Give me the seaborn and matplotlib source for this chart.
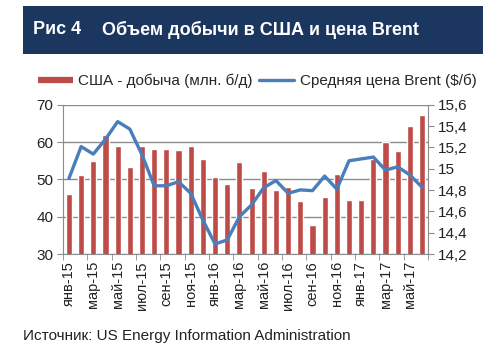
import numpy as np
import pandas as pd
import matplotlib
matplotlib.use("Agg")
import matplotlib.pyplot as plt
from matplotlib.lines import Line2D
from matplotlib.patches import Rectangle
import seaborn as sns

# Data (Jan 2015 - Jun 2017)
months = ['янв', 'фев', 'мар', 'апр', 'май', 'июн', 'июл', 'авг', 'сен', 'окт', 'ноя', 'дек']
periods = [f"{m}-{y}" for y in ['15', '16', '17'] for m in months][:30]

us_production = [14.76, 14.94, 15.07, 15.32, 15.21, 15.02, 15.21, 15.19, 15.19, 15.18,
                 15.21, 15.09, 14.92, 14.86, 15.06, 14.82, 14.98, 14.80, 14.83, 14.70,
                 14.47, 14.74, 14.95, 14.71, 14.71, 15.09, 15.25, 15.17, 15.40, 15.50]

brent_price = [50.3, 58.8, 56.8, 60.8, 65.5, 63.5, 56.6, 48.3, 48.3, 49.4,
               46.3, 39.1, 32.7, 33.8, 40.0, 43.2, 47.8, 49.7, 46.3, 47.2,
               47.0, 50.9, 47.4, 55.0, 55.5, 56.0, 52.5, 53.4, 51.2, 47.9]

left_ticks = [30, 40, 50, 60, 70]
right_ticks = [14.2, 14.4, 14.6, 14.8, 15.0, 15.2, 15.4, 15.6]

df = pd.DataFrame({'period': periods, 'prod': us_production, 'brent': brent_price,
                   'x': np.arange(len(periods))})

bar_color = '#BE4B48'
line_color = '#4A7EBB'
grid_color = '#8C8C8C'
text_color = '#222222'

sns.set_style('white')
plt.rcParams['font.family'] = ['Liberation Sans', 'DejaVu Sans']

fig = plt.figure(figsize=(4.99, 3.64), dpi=100)
rect = [0.126, 0.302, 0.732, 0.410]
n = len(periods)

# background axes only for the gridlines (left scale)
ax_grid = fig.add_axes(rect, zorder=0)
ax_grid.set_ylim(30, 70)
ax_grid.set_xlim(-0.5, n - 0.5)
ax_grid.set_yticks(left_ticks)
ax_grid.grid(axis='y', color=grid_color, linewidth=1.0)
ax_grid.tick_params(left=False, labelleft=False, bottom=False, labelbottom=False)
for s in ax_grid.spines.values():
    s.set_visible(False)

# bars on the right-hand scale
ax = fig.add_axes(rect, zorder=1)
ax.patch.set_visible(False)
sns.barplot(data=df, x='period', y='prod', color=bar_color, width=0.5,
            saturation=1, ax=ax)
ax.set_ylim(14.2, 15.6)
ax.set_yticks(right_ticks)
ax.set_yticklabels([f"{v:g}".replace('.', ',') for v in right_ticks])
ax.set_xlim(-0.5, n - 0.5)

# line on the left-hand scale
ax2 = ax.twinx()
ax2.patch.set_visible(False)
sns.lineplot(data=df, x='x', y='brent', color=line_color, linewidth=2.4, ax=ax2)
ax2.set_ylim(30, 70)
ax2.set_yticks(left_ticks)
ax2.set_xlim(-0.5, n - 0.5)

for a in (ax, ax2):
    a.set_xlabel('')
    a.set_ylabel('')
    for s in a.spines.values():
        s.set_visible(False)

ax.spines['bottom'].set_visible(True)
ax.spines['bottom'].set_color(grid_color)
ax.spines['right'].set_visible(True)
ax.spines['right'].set_color(grid_color)
ax2.spines['left'].set_visible(True)
ax2.spines['left'].set_color(grid_color)

ax.tick_params(axis='y', left=False, labelleft=False, right=True, labelright=True,
               length=4, color=grid_color, labelsize=11, labelcolor=text_color, pad=3)
ax2.tick_params(axis='y', right=False, labelright=False, left=True, labelleft=True,
                length=4, color=grid_color, labelsize=11, labelcolor=text_color, pad=3)

# x labels every two months, tick marks between categories
ax.set_xticks(np.arange(0, n, 2))
ax.set_xticklabels(periods[::2], rotation=90)
ax.set_xticks(np.arange(-0.5, n, 2), minor=True)
ax.tick_params(axis='x', which='major', length=0, labelsize=10.5, labelcolor=text_color, pad=5)
ax.tick_params(axis='x', which='minor', bottom=True, length=4, color=grid_color)
ax2.tick_params(axis='x', bottom=False, labelbottom=False)

# header
fig.patches.append(Rectangle((23 / 499, 1 - 54 / 364), 460 / 499, 48 / 364,
                             transform=fig.transFigure, facecolor='#1B365F',
                             edgecolor='none', zorder=0))
fig.text(33 / 499, 1 - 30 / 364, 'Рис 4', color='white', fontsize=13,
         fontweight='bold', va='center', ha='left')
fig.text(102 / 499, 1 - 30 / 364, 'Объем добычи в США и цена Brent', color='white',
         fontsize=13, fontweight='bold', va='center', ha='left')

# legend
handles = [Line2D([], [], color=bar_color, linewidth=4.5, solid_capstyle='butt'),
           Line2D([], [], color=line_color, linewidth=2.4)]
fig.legend(handles, ['США - добыча (млн. б/д)', 'Средняя цена Brent ($/б)'],
           loc='center left', bbox_to_anchor=(38 / 499, 1 - 81 / 364), ncol=2,
           frameon=False, fontsize=11, handlelength=2.3, handletextpad=0.35,
           columnspacing=0.4, borderaxespad=0, borderpad=0)

fig.text(23 / 499, 1 - 336 / 364, 'Источник: US Energy Information Administration',
         fontsize=11, color=text_color, va='center', ha='left')

fig.savefig('out.png', dpi=100)
